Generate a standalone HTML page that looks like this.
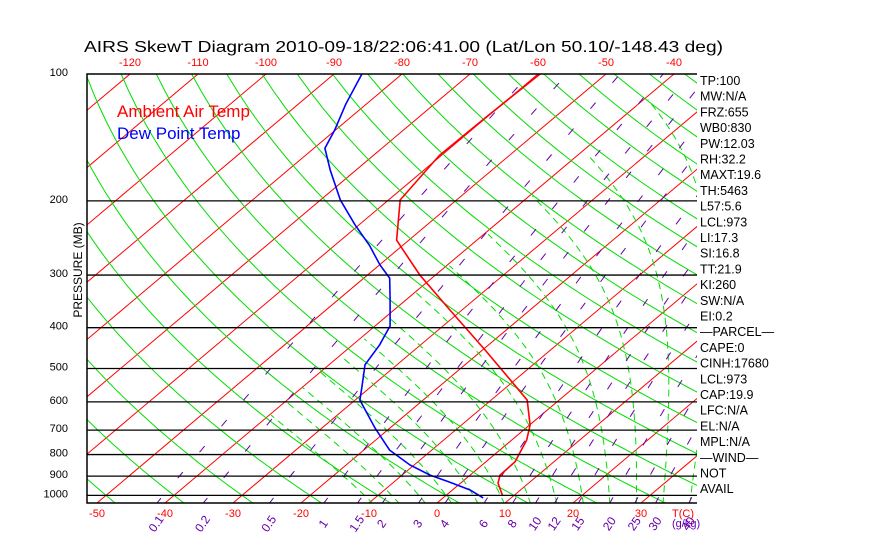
<!DOCTYPE html>
<html><head><meta charset="utf-8">
<style>
html,body{margin:0;padding:0;background:#fff;}
svg{display:block;font-family:"Liberation Sans",sans-serif;}
</style></head>
<body>
<svg id="chart" width="870" height="560" viewBox="0 0 870 560" xmlns="http://www.w3.org/2000/svg">
<defs><clipPath id="pc"><rect x="87" y="74" width="610" height="429"/></clipPath></defs>
<rect x="0" y="0" width="870" height="560" fill="#fff"/>
<text x="84" y="52" font-size="16" textLength="639" lengthAdjust="spacingAndGlyphs" fill="#000">AIRS SkewT Diagram 2010-09-18/22:06:41.00 (Lat/Lon 50.10/-148.43 deg)</text>
<g id="grid" clip-path="url(#pc)"></g>
<g id="series" clip-path="url(#pc)"></g>
<g id="axes"></g>
<text x="117" y="117" font-size="17" fill="#ff0000">Ambient Air Temp</text>
<text x="117" y="139" font-size="17" fill="#0000ff">Dew Point Temp</text>
<text transform="translate(82,270) rotate(-90)" text-anchor="middle" font-size="12" fill="#000">PRESSURE (MB)</text>
<g id="panel" font-size="12.5" fill="#000"></g>
</svg>
<script>
// ---- data ----
const tempP = [100,127,156,199,248,300,363,452,532,594,681,739,833,895,935,1000];
const tempT = [-59.7,-60.1,-60.3,-58.3,-51.8,-42.3,-31.8,-19.6,-10.7,-4.7,0.1,2.2,4.3,4.4,5.5,8.3];
const dewP = [100,118,136,150,169,199,228,255,284,305,344,396,440,490,547,594,692,781,847,895,930,971,1014];
const dewT = [-85.9,-83.0,-80.1,-78.4,-73.8,-67.1,-60.6,-54.9,-49.9,-46.2,-42.3,-37.8,-36.0,-34.7,-31.6,-29.3,-22.2,-16.2,-10.6,-5.9,-1.8,2.6,5.9];
const pressureTicks = [100,200,300,400,500,600,700,800,900,1000];
const topTempTicks = [-120,-110,-100,-90,-80,-70,-60,-50,-40];
const bottomTempTicks = [-50,-40,-30,-20,-10,0,10,20,30];
const mixingRatios = [0.1,0.2,0.5,1,1.5,2,3,4,6,8,10,12,15,20,25,30,40];
const mixingLabels = ["0.1","0.2","0.5","1","1.5","2","3","4","6","8","10","12","15","20","25","30","40"];
const panelItems = ["TP:100","MW:N/A","FRZ:655","WB0:830","PW:12.03","RH:32.2","MAXT:19.6","TH:5463","L57:5.6","LCL:973","LI:17.3","SI:16.8","TT:21.9","KI:260","SW:N/A","EI:0.2","\u2014PARCEL\u2014","CAPE:0","CINH:17680","LCL:973","CAP:19.9","LFC:N/A","EL:N/A","MPL:N/A","\u2014WIND\u2014","NOT","AVAIL"];

// ---- axes functions ----
const Y0=74, PSC=183, XB=437, TS=6.8, SK=1.1865, YB=503;
function yP(p){return Y0+PSC*Math.log(p/100);}
function xT(T,y){return XB+TS*T+SK*(YB-y);}
const NS="http://www.w3.org/2000/svg";
function mk(tag,attrs,parent){const e=document.createElementNS(NS,tag);for(const k in attrs)e.setAttribute(k,attrs[k]);parent.appendChild(e);return e;}
const grid=document.getElementById('grid'), series=document.getElementById('series'), axes=document.getElementById('axes'), panel=document.getElementById('panel');

// isotherms
for(let T=-200;T<=60;T+=10){
  const l=mk('line',{x1:xT(T,YB),y1:YB,x2:xT(T,Y0),y2:Y0,stroke:'#ff0000','stroke-width':1},grid);
  
  
}
// dry adiabats
for(let th=-60;th<=250;th+=10){
  let pts=[];
  for(let p=1050;p>=100;p-=10){const T=(th+273.15)*Math.pow(p/1000,0.2857)-273.15;const y=yP(p);pts.push(xT(T,y).toFixed(1)+','+y.toFixed(1));}
  const e=mk('polyline',{points:pts.join(' '),fill:'none',stroke:'#00dd00','stroke-width':1},grid);
  
  
}
// moist adiabats
function es(T){return 6.112*Math.exp(17.67*T/(T+243.5));}
function moistRate(T,p){const Tk=T+273.15,rs=0.622*es(T)/(p-es(T)),Lv=2.5e6,Rd=287,cp=1005;
  return (Rd*Tk+Lv*rs)/(cp+Lv*Lv*rs*0.622/(Rd*Tk*Tk));}
for(let T0=-12;T0<=44;T0+=4){
  let pts=[];let p;
  let Td=T0;for(let pp=1000;pp<1050;pp+=5){Td+=moistRate(Td,pp)*Math.log((pp+5)/pp);}
  let T=Td;p=1050;
  while(p>=100 && T>-40){const y=yP(p);pts.push(xT(T,y).toFixed(1)+','+y.toFixed(1));const np=p-5;T+=moistRate(T,p)*Math.log(np/p);p=np;}
  const e=mk('polyline',{points:pts.join(' '),fill:'none',stroke:'#00dd00','stroke-width':1,'stroke-dasharray':'7,5'},grid);
  
  
}
// mixing ratio lines
function tdFromW(w,p){const e=w*p/(622+w);const a=Math.log(e/6.112);return 243.5*a/(17.67-a);}
mixingRatios.forEach((w,i)=>{
  let pts=[];
  for(let p=1050;p>=100;p-=10){const y=yP(p);pts.push(xT(tdFromW(w,p),y).toFixed(1)+','+y.toFixed(1));}
  const e=mk('polyline',{points:pts.join(' '),fill:'none',stroke:'#6600aa','stroke-width':1,'stroke-dasharray':'8,26'},grid);
  
  
  const xb=xT(tdFromW(w,1050),YB);
  const t=mk('text',{transform:'translate('+(xb+2).toFixed(1)+',526) rotate(-55)','text-anchor':'middle','font-size':'12',fill:'#6600aa'},axes);
  t.textContent=mixingLabels[i];
  
  
});
// isobars
pressureTicks.forEach(p=>{
  const y=yP(p);
  if(p>100){const l=mk('line',{x1:87,y1:y,x2:697,y2:y,stroke:'#000','stroke-width':1.3},axes);
  
  }
  const t=mk('text',{x:68,y:y+2,'text-anchor':'end','font-size':'11',fill:'#000'},axes);
  t.textContent=p;
  
  
});
// frame
const fr=mk('path',{d:'M697,74 L87,74 L87,503 L697,503',fill:'none',stroke:'#000','stroke-width':1.5},axes);


// temp ticks
topTempTicks.forEach(T=>{
  const t=mk('text',{x:xT(T,Y0),y:66,'text-anchor':'middle','font-size':'11',fill:'#ff0000'},axes);
  t.textContent=T;
  
  
});
bottomTempTicks.forEach(T=>{
  const t=mk('text',{x:xT(T,YB),y:517,'text-anchor':'middle','font-size':'11',fill:'#ff0000'},axes);
  t.textContent=T;
  
  
});
const tc=mk('text',{x:683,y:517,'text-anchor':'middle','font-size':'11',fill:'#ff0000'},axes);
tc.textContent='T(C)';


const gk=mk('text',{x:672,y:527,'font-size':'11',fill:'#6600aa'},axes);
gk.textContent='(g/kg)';


// series
function profile(P,T,color,name){
  const pts=P.map((p,i)=>{const y=yP(p);return xT(T[i],y).toFixed(1)+','+y.toFixed(1);});
  const e=mk('polyline',{points:pts.join(' '),fill:'none',stroke:color,'stroke-width':1.6},series);
  
  
}
profile(tempP,tempT,'#ff0000','temperature-profile');
profile(dewP,dewT,'#0000ff','dewpoint-profile');
// panel
panelItems.forEach((s,i)=>{
  const t=mk('text',{x:700,y:85+i*15.7},panel);
  t.textContent=s;
  
  
});
</script>
</body></html>
